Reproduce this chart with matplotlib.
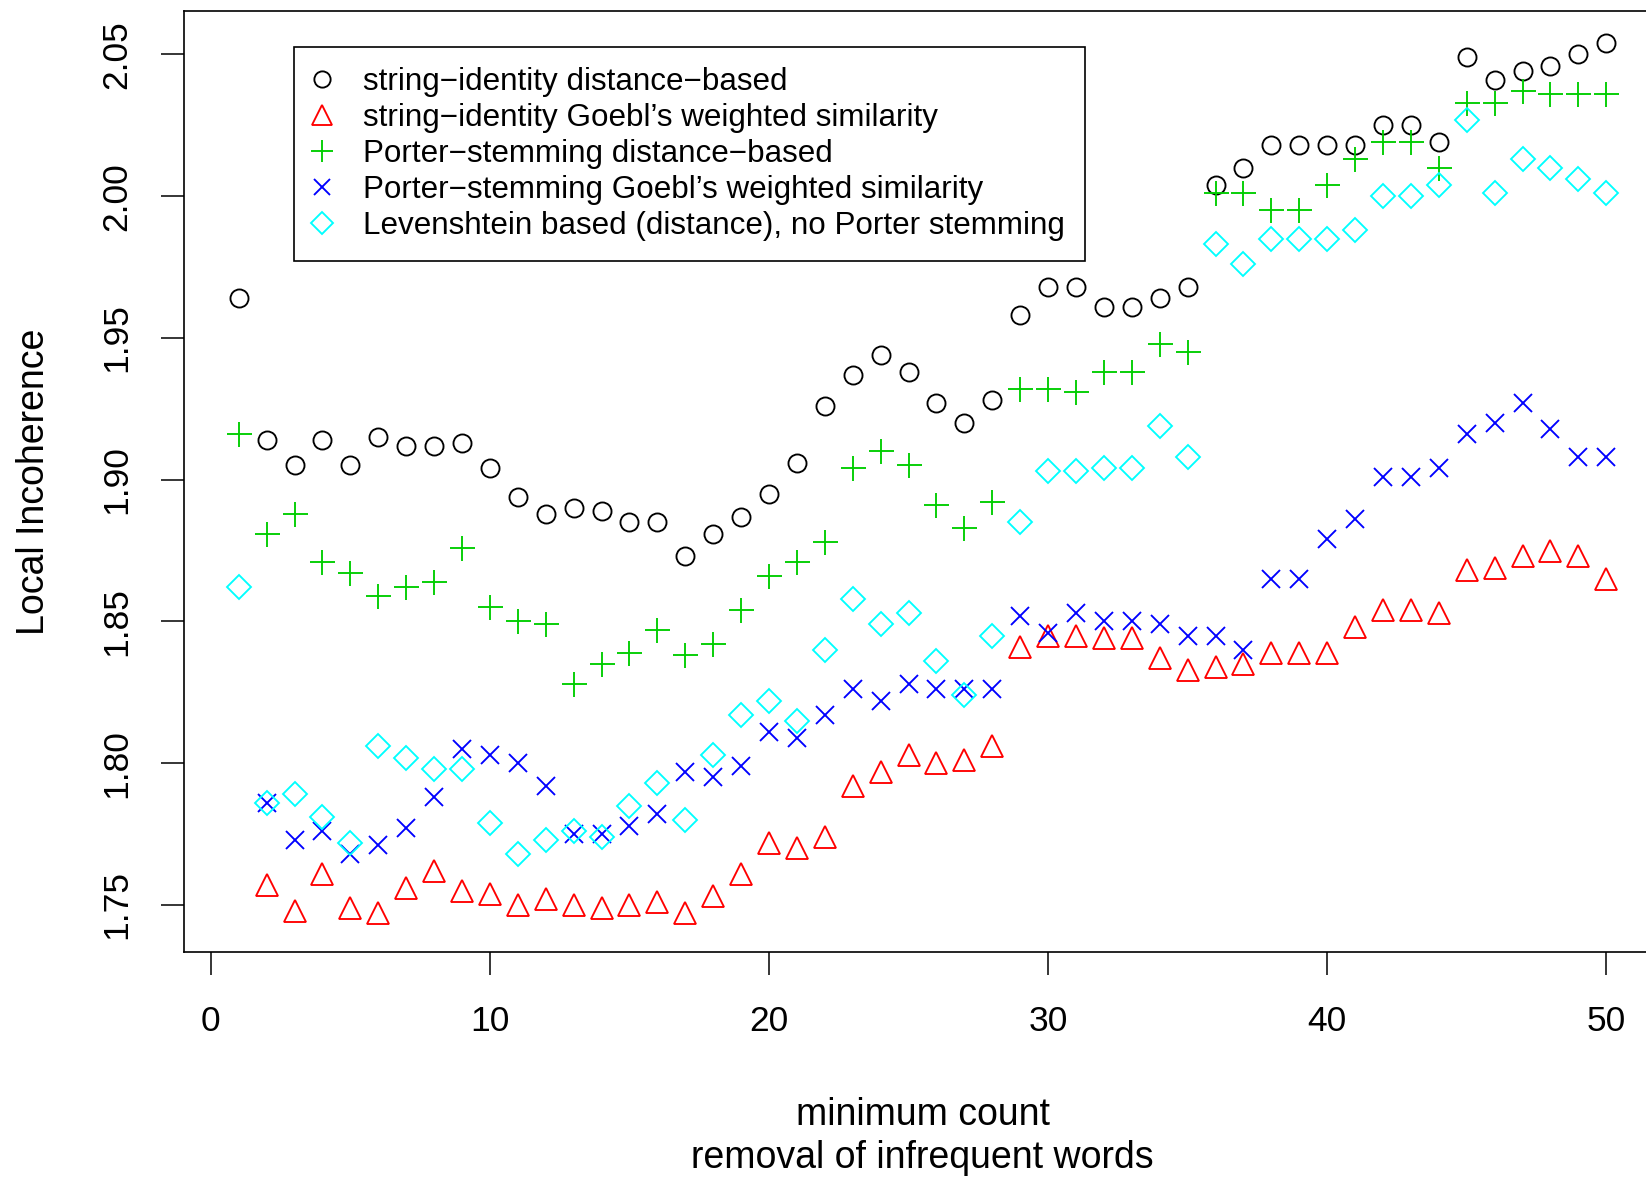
import numpy as np
import matplotlib
matplotlib.use("Agg")
import matplotlib.pyplot as plt

plt.rcParams["font.family"] = ["Liberation Sans", "DejaVu Sans"]

# minimum count threshold (removal of infrequent words)
min_count = list(range(1, 51))

# string-identity distance-based (black circles)
sid_dist = [1.964, 1.914, 1.905, 1.914, 1.905, 1.915, 1.912, 1.912, 1.913, 1.904,
            1.894, 1.888, 1.890, 1.889, 1.885, 1.885, 1.873, 1.881, 1.887, 1.895,
            1.906, 1.926, 1.937, 1.944, 1.938, 1.927, 1.920, 1.928, 1.958, 1.968,
            1.968, 1.961, 1.961, 1.964, 1.968, 2.004, 2.010, 2.018, 2.018, 2.018,
            2.018, 2.025, 2.025, 2.019, 2.049, 2.041, 2.044, 2.046, 2.050, 2.054]

# string-identity Goebl's weighted similarity (red triangles), no value at 1
sid_goebl = [np.nan, 1.757, 1.748, 1.761, 1.749, 1.747, 1.756, 1.762, 1.755, 1.754,
             1.750, 1.752, 1.750, 1.749, 1.750, 1.751, 1.747, 1.753, 1.761, 1.772,
             1.770, 1.774, 1.792, 1.797, 1.803, 1.800, 1.801, 1.806, 1.841, 1.845,
             1.845, 1.844, 1.844, 1.837, 1.833, 1.834, 1.835, 1.839, 1.839, 1.839,
             1.848, 1.854, 1.854, 1.853, 1.868, 1.869, 1.873, 1.875, 1.873, 1.865]

# Porter-stemming distance-based (green plus)
ps_dist = [1.916, 1.881, 1.888, 1.871, 1.867, 1.859, 1.862, 1.864, 1.876, 1.855,
           1.850, 1.849, 1.828, 1.835, 1.839, 1.847, 1.838, 1.842, 1.854, 1.866,
           1.871, 1.878, 1.904, 1.910, 1.905, 1.891, 1.883, 1.892, 1.932, 1.932,
           1.931, 1.938, 1.938, 1.948, 1.945, 2.001, 2.001, 1.995, 1.995, 2.004,
           2.013, 2.019, 2.019, 2.010, 2.033, 2.033, 2.037, 2.036, 2.036, 2.036]

# Porter-stemming Goebl's weighted similarity (blue x), no value at 1
ps_goebl = [np.nan, 1.786, 1.773, 1.776, 1.768, 1.771, 1.777, 1.788, 1.805, 1.803,
            1.800, 1.792, 1.775, 1.775, 1.778, 1.782, 1.797, 1.795, 1.799, 1.811,
            1.809, 1.817, 1.826, 1.822, 1.828, 1.826, 1.826, 1.826, 1.852, 1.846,
            1.853, 1.850, 1.850, 1.849, 1.845, 1.845, 1.840, 1.865, 1.865, 1.879,
            1.886, 1.901, 1.901, 1.904, 1.916, 1.920, 1.927, 1.918, 1.908, 1.908]

# Levenshtein based (distance), no Porter stemming (cyan diamonds)
lev_dist = [1.862, 1.786, 1.789, 1.781, 1.772, 1.806, 1.802, 1.798, 1.798, 1.779,
            1.768, 1.773, 1.776, 1.774, 1.785, 1.793, 1.780, 1.803, 1.817, 1.822,
            1.815, 1.840, 1.858, 1.849, 1.853, 1.836, 1.824, 1.845, 1.885, 1.903,
            1.903, 1.904, 1.904, 1.919, 1.908, 1.983, 1.976, 1.985, 1.985, 1.985,
            1.988, 2.000, 2.000, 2.004, 2.027, 2.001, 2.013, 2.010, 2.006, 2.001]

series = [
    (sid_dist, "string\u2212identity distance\u2212based", "o", "black", 13),
    (sid_goebl, "string\u2212identity Goebl\u2019s weighted similarity", "^", "#FF0000", 16),
    (ps_dist, "Porter\u2212stemming distance\u2212based", "+", "#00CD00", 18),
    (ps_goebl, "Porter\u2212stemming Goebl\u2019s weighted similarity", "x", "#0000FF", 13),
    (lev_dist, "Levenshtein based (distance), no Porter stemming", "D", "#00FFFF", 12),
]

W, H = 1646, 1178
fig = plt.figure(figsize=(W / 100, H / 100), dpi=100)
# plot region (R style, right edge runs slightly past the canvas)
left, right, top, bottom = 184, 1661, 11, 952
ax = fig.add_axes([left / W, (H - bottom) / H, (right - left) / W, (bottom - top) / H])

for vals, label, marker, color, size in series:
    ax.plot(min_count, vals, linestyle="none", marker=marker, markersize=size,
            markerfacecolor="none", markeredgecolor=color, markeredgewidth=1.35,
            label=label)

ax.set_xlim(-0.96, 51.96)
ax.set_ylim(1.7334, 2.0653)
ax.set_xticks([0, 10, 20, 30, 40, 50])
ax.set_yticks([1.75, 1.80, 1.85, 1.90, 1.95, 2.00, 2.05])
ax.set_yticklabels(["1.75", "1.80", "1.85", "1.90", "1.95", "2.00", "2.05"],
                   rotation=90, va="center")

for sp in ax.spines.values():
    sp.set_linewidth(1.2)
ax.tick_params(axis="both", length=16.5, width=1.1, labelsize=25.5, direction="out")
ax.tick_params(axis="x", pad=22)
ax.tick_params(axis="y", pad=20)

ax.set_xlabel("minimum count\nremoval of infrequent words", fontsize=27,
              labelpad=42, linespacing=1.24)
ax.set_ylabel("Local Incoherence", fontsize=27, labelpad=35)

leg = ax.legend(loc="upper left", bbox_to_anchor=(0.0745, 0.9617),
                borderaxespad=0, fancybox=False, edgecolor="black", framealpha=1,
                fontsize=22.6, numpoints=1, handlelength=0.5, handletextpad=1.05,
                borderpad=0.64, labelspacing=0.19, markerscale=0.9)
leg.get_frame().set_linewidth(1.2)

fig.savefig("out.png", dpi=100)
